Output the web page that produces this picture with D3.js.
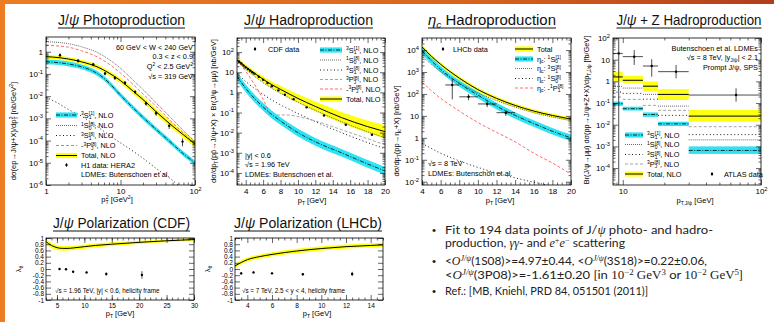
<!DOCTYPE html>
<html><head><meta charset="utf-8">
<script src="https://cdn.jsdelivr.net/npm/d3@7"></script>
<style>body{margin:0;background:#fff}svg{display:block}</style>
</head><body><script>
// ---------- J/psi photoproduction (H1), x = pT^2 ----------
const photoPt2 = [1, 1.5, 2, 3, 5, 7, 10, 15, 20, 30, 50, 70, 100];
const photoTotal = [0.60, 0.54, 0.47, 0.35, 0.20, 0.11, 0.050, 0.016, 7.1e-3, 2.0e-3, 4.5e-4, 1.8e-4, 7e-5];
const photoTotalUnc = [0.23, 0.23, 0.24, 0.25, 0.27, 0.28, 0.30, 0.32, 0.33, 0.35, 0.37, 0.38, 0.40];
const photoCS = [0.35, 0.32, 0.28, 0.21, 0.10, 0.040, 0.011, 2.8e-3, 1.1e-3, 3.2e-4, 7e-5, 2.5e-5, 1e-5];
const photoCSUnc = [0.28, 0.28, 0.28, 0.28, 0.28, 0.28, 0.28, 0.28, 0.28, 0.28, 0.28, 0.28, 0.28];
const photo1S08 = [2.8, 2.6, 2.3, 1.66, 0.89, 0.45, 0.18, 0.050, 0.020, 5e-3, 8.9e-4, 2.8e-4, 8.9e-5];
const photo3S18 = [8.9e-3, 4.5e-3, 2.5e-3, 1.26e-3, 4e-4, 1.8e-4, 7.9e-5, 3.2e-5, 1.6e-5, 5.6e-6, 1.6e-6, 6.3e-7, 2e-7];
const photoNeg3PJ8 = [2.0, 1.8, 1.6, 1.1, 0.56, 0.28, 0.11, 0.032, 0.0126, 3.5e-3, 6.3e-4, 2.2e-4, 7e-5];
const h1Pt2 = [1.54, 2.7, 4.3, 6.2, 8.4, 11.5, 15.7, 22, 30, 45, 68];
const h1Val = [0.70, 0.39, 0.27, 0.105, 0.066, 0.040, 0.0156, 4.7e-3, 1.7e-3, 4.6e-4, 9e-5];
const h1Err = [0.15, 0.07, 0.05, 0.02, 0.012, 0.008, 0.003, 1.0e-3, 4e-4, 1.3e-4, 3.5e-5];

// ---------- J/psi hadroproduction (CDF) ----------
const cdfPt = [3, 4, 5, 6, 7, 8, 10, 12, 15, 18, 20];
const cdfTotal = [41.7, 18.6, 8.9, 4.47, 2.4, 1.41, 0.50, 0.20, 0.056, 0.020, 0.0112];
const cdfTotalUnc = [0.3, 0.3, 0.35, 0.4, 0.45, 0.5, 0.6, 0.75, 0.9, 1.0, 1.1];
const cdfCS = [6.3, 1.58, 0.50, 0.19, 0.079, 0.038, 0.010, 3.5e-3, 1.0e-3, 2.8e-4, 1.26e-4];
const cdfCSUnc = [0.55, 0.55, 0.55, 0.55, 0.55, 0.55, 0.55, 0.55, 0.55, 0.55, 0.55];
const cdf1S08 = [35, 14, 6.3, 3.0, 1.58, 0.89, 0.32, 0.126, 0.035, 0.011, 5.6e-3];
const cdf3S18 = [8.9, 3.5, 1.58, 0.79, 0.42, 0.24, 0.089, 0.035, 0.010, 3.2e-3, 1.6e-3];
const cdfNeg3PJPt = [3, 4, 5, 6, 6.8];
const cdfNeg3PJ = [40, 11.2, 2.5, 0.45, 0.079];
const cdf3PJPt = [7, 8, 9, 10, 12, 15, 18, 20];
const cdf3PJ = [0.071, 0.076, 0.074, 0.063, 0.038, 0.014, 5e-3, 2.5e-3];
const cdfDataPt = [3.25, 3.5, 3.75, 4.0, 4.25, 4.5, 4.75, 5.0, 5.5, 6.0, 6.5, 7.0, 7.75, 8.5, 9.5, 11, 13, 15.5, 18.5];
const cdfDataVal = [33, 27, 21.4, 17.4, 14.5, 12, 10, 8.5, 6.0, 4.2, 2.9, 2.0, 1.26, 0.76, 0.46, 0.18, 0.071, 0.0245, 0.0079];

// ---------- eta_c hadroproduction (LHCb) ----------
const etaPt = [4, 5, 6, 7, 8, 10, 12, 14, 16, 18, 20];
const etaTotal = [14100, 5250, 2240, 1050, 525, 158, 63, 30, 16.6, 10.5, 7.1];
const etaTotalUnc = [0.22, 0.22, 0.22, 0.22, 0.22, 0.22, 0.22, 0.22, 0.22, 0.22, 0.22];
const etaCS = [9300, 3300, 1320, 600, 300, 89, 28, 10.5, 4.5, 2.0, 1.0];
const etaCSUnc = [0.4, 0.4, 0.4, 0.4, 0.4, 0.4, 0.4, 0.4, 0.4, 0.4, 0.4];
const eta3S18 = [5250, 2240, 1050, 560, 316, 112, 50, 25, 14, 8.9, 6.0];
const etaNeg1P18 = [355, 141, 63, 32, 16.6, 5.0, 1.78, 0.66, 0.2, 0.071, 0.022];
const eta1S08Pt = [4, 6, 8, 10, 12, 14, 16, 18];
const eta1S08 = [0.56, 0.2, 0.089, 0.045, 0.025, 0.015, 9.5e-3, 6.3e-3];
const lhcbBinLo = [6.5, 8, 10, 12];
const lhcbBinHi = [8, 10, 12, 14];
const lhcbPt = [7.25, 9, 11, 13];
const lhcbVal = [257, 74, 35, 14];
const lhcbErr = [200, 22, 10, 4];

// ---------- J/psi + Z (ATLAS) ----------
const zBinLo = [8.5, 10, 14, 18, 30];
const zBinHi = [10, 14, 18, 30, 100];
const zTotal = [1.6, 1.12, 0.60, 0.25, 0.025];
const zTotalLo = [0.98, 0.81, 0.34, 0.138, 0.0138];
const zTotalHi = [2.8, 1.78, 0.98, 0.44, 0.048];
const zCS = [0.093, 0.055, 0.0295, 0.011, 6.5e-4];
const zCSLo = [0.074, 0.045, 0.023, 0.0087, 4.5e-4];
const zCSHi = [0.117, 0.068, 0.037, 0.0138, 1.0e-3];
const z1S08 = [0.59, 0.49, 0.25, 0.072, 2.0e-3];
const z3S18 = [0.32, 0.28, 0.15, 0.027, 3.5e-3];
const z3PJ8 = [0.19, 0.148, 0.078, 0.046, 8.1e-3];
const atlasPt = [9.35, 12.1, 16.2, 24.3, 66];
const atlasVal = [19.5, 13.8, 5.1, 2.8, 0.234];
const atlasLo = [0, 5.7, 1.65, 1.39, 0.116];
const atlasHi = [100, 28, 10.5, 5.7, 0.48];

// ---------- polarization ----------
const cdfPolPt = [3, 4, 5, 6, 7, 8, 10, 12, 15, 20, 25, 30];
const cdfPolLam = [0.88, 0.76, 0.69, 0.665, 0.665, 0.68, 0.72, 0.76, 0.80, 0.86, 0.91, 0.95];
const cdfPolUnc = [0.08, 0.08, 0.08, 0.08, 0.075, 0.07, 0.07, 0.065, 0.06, 0.05, 0.045, 0.04];
const cdfPolDataPt = [5.47, 6.65, 7.95, 10.4, 14.0, 20.5];
const cdfPolData = [0.0, -0.01, -0.09, -0.11, -0.16, -0.19];
const cdfPolErr = [0.02, 0.02, 0.02, 0.03, 0.05, 0.12];
const lhcbPolPt = [3, 4, 5, 6, 8, 10, 12, 14, 15];
const lhcbPolLam = [0.10, 0.30, 0.40, 0.47, 0.58, 0.66, 0.72, 0.76, 0.78];
const lhcbPolUnc = [0.07, 0.07, 0.07, 0.07, 0.07, 0.07, 0.07, 0.07, 0.07];
const lhcbPolDataPt = [3.5, 4.5, 6.0, 8.5, 12.5];
const lhcbPolData = [-0.14, -0.11, -0.14, -0.17, -0.16];
const lhcbPolErr = [0.04, 0.03, 0.03, 0.04, 0.07];
const polTicks = [-1, -0.8, -0.6, -0.4, -0.2, 0, 0.2, 0.4, 0.6, 0.8, 1];

const FONT = "'Liberation Sans', Arial, sans-serif";
const SERIF = "'Liberation Serif', 'DejaVu Serif', serif";
const CYAN = "#2ee3f3", YELLOW = "#ffff14";

const svg = d3.select("body").append("svg").attr("width", 774).attr("height", 322)
  .attr("font-family", FONT);
const defs = svg.append("defs");

// slide frame
const gr = defs.append("linearGradient").attr("id", "bar");
gr.append("stop").attr("offset", 0).attr("stop-color", "#ec7d22");
gr.append("stop").attr("offset", 0.6).attr("stop-color", "#d9631d");
gr.append("stop").attr("offset", 1).attr("stop-color", "#b13e1b");
svg.append("rect").attr("width", 774).attr("height", 322).attr("fill", "url(#bar)");
svg.append("rect").attr("x", 5).attr("y", 4).attr("width", 769).attr("height", 318).attr("fill", "#fff");

function setAttrs(sel, o) { Object.entries(o).forEach(([k, v]) => sel.attr(k, v)); return sel; }

// tokens: "text" or [text, flags]; flags u=sup d=sub b=backstep i=italic s=serif
function rich(sel, tokens, fs) {
  let cur = 0;
  tokens.forEach(tk => {
    const [t, k] = typeof tk === "string" ? [tk, ""] : tk;
    const target = k.includes("u") ? -0.36 * fs : k.includes("d") ? 0.22 * fs : 0;
    const ts = sel.append("tspan").text(t).attr("dy", target - cur);
    cur = target;
    if (k.includes("u") || k.includes("d")) ts.attr("font-size", fs * 0.68);
    if (k.includes("b")) ts.attr("dx", -0.36 * fs);
    if (k.includes("i")) ts.attr("font-style", "italic");
    if (k.includes("s")) ts.attr("font-family", SERIF);
  });
  return sel;
}

function txt(x, y, tokens, fs, anchor, rot) {
  const t = svg.append("text").attr("x", x).attr("y", y).attr("font-size", fs)
    .attr("text-anchor", anchor || "start").attr("fill", "#000");
  if (rot) t.attr("transform", `rotate(-90,${x},${y})`);
  return rich(t, tokens, fs);
}

const ST = {
  cs: { stroke: "#000", "stroke-width": 0.8, "stroke-dasharray": "4,1.5,1,1.5", fill: "none" },
  s1: { stroke: "#444", "stroke-width": 0.8, "stroke-dasharray": "1,1", fill: "none" },
  s3: { stroke: "#000", "stroke-width": 0.9, "stroke-dasharray": "1,2.5", fill: "none" },
  pj: { stroke: "#9a9a9a", "stroke-width": 0.9, "stroke-dasharray": "3,2", fill: "none" },
  npj: { stroke: "#ff5a5a", "stroke-width": 0.9, "stroke-dasharray": "3,2", fill: "none" },
  tot: { stroke: "#000", "stroke-width": 1, fill: "none" }
};

function mkPanel(id, x, y) {
  const [x0, x1] = x.range(), [y1, y0] = y.range();
  defs.append("clipPath").attr("id", id).append("rect")
    .attr("x", x0).attr("y", y0).attr("width", x1 - x0).attr("height", y1 - y0);
  const g = svg.append("g");
  const plot = g.append("g").attr("clip-path", `url(#${id})`);
  return { g, plot, x, y, x0, x1, y0, y1 };
}

function decades(s) {
  const [a, b] = s.domain();
  return d3.range(Math.ceil(Math.log10(a) - 1e-9), Math.floor(Math.log10(b) + 1e-9) + 1).map(e => 10 ** e);
}
function logLabels(a) {
  a.selectAll(".tick text").each(function (d) {
    const e = Math.round(Math.log10(d)), t = d3.select(this).text(null);
    if (e === 0) t.text("1");
    else if (e === 1) t.text("10");
    else { t.append("tspan").text("10"); t.append("tspan").attr("font-size", "0.72em").attr("dy", "-0.55em").text(e); }
  });
}

function axes(p, o) {
  const { g, x, y, x0, x1, y0, y1 } = p;
  const fs = o.fs || 8;
  const mk = (gen, vals, size, tx, ty, fmt, pad) => {
    const a = g.append("g").attr("transform", `translate(${tx},${ty})`)
      .call(gen.tickValues(vals).tickSize(size).tickPadding(pad).tickFormat(fmt));
    a.select(".domain").remove();
    a.attr("font-family", FONT).attr("font-size", fs);
    a.selectAll("line").attr("stroke-width", 0.6);
    a.selectAll("text").attr("fill", "#000");
    return a;
  };
  const none = () => "";
  const xl = o.xLog, yl = o.yLog;
  const xMaj = xl ? decades(x) : o.xMaj, yMaj = yl ? decades(y) : o.yMaj;
  const xMin = xl ? x.ticks().filter(v => !xMaj.some(m => Math.abs(m - v) < 1e-9 * m)) : o.xMin;
  const yMin = yl ? y.ticks().filter(v => !yMaj.some(m => Math.abs(m - v) < 1e-9 * m)) : o.yMin;
  const xb = mk(d3.axisBottom(x), xMaj, -5, 0, y1, xl ? null : (o.xFmt || d3.format("")), 3);
  if (xl) logLabels(xb);
  mk(d3.axisBottom(x), xMin, -2.5, 0, y1, none, 3);
  mk(d3.axisTop(x), xMaj, -5, 0, y0, none, 3);
  mk(d3.axisTop(x), xMin, -2.5, 0, y0, none, 3);
  const ylab = mk(d3.axisLeft(y), yMaj, -5, x0, 0, yl ? null : o.yFmt, o.yPad || 3);
  if (yl) logLabels(ylab);
  mk(d3.axisLeft(y), yMin, -2.5, x0, 0, none, 3);
  mk(d3.axisRight(y), yMaj, -5, x1, 0, none, 3);
  mk(d3.axisRight(y), yMin, -2.5, x1, 0, none, 3);
  g.append("rect").attr("x", x0).attr("y", y0).attr("width", x1 - x0).attr("height", y1 - y0)
    .attr("fill", "none").attr("stroke", "#000").attr("stroke-width", 0.8);
}

const mono = d3.curveMonotoneX;
function curve(p, xs, ys, st) {
  setAttrs(p.plot.append("path").datum(xs.map((v, i) => [v, ys[i]]))
    .attr("d", d3.line().x(d => p.x(d[0])).y(d => p.y(d[1])).curve(mono)), st);
}
function bandLog(p, xs, ys, unc, color) {
  p.plot.append("path").datum(xs.map((v, i) => [v, ys[i], unc[i]]))
    .attr("d", d3.area().x(d => p.x(d[0])).y0(d => p.y(d[1] / (1 + d[2]))).y1(d => p.y(d[1] * (1 + d[2]))).curve(mono))
    .attr("fill", color);
}
function bandLin(p, xs, ys, unc, color) {
  p.plot.append("path").datum(xs.map((v, i) => [v, ys[i], unc[i]]))
    .attr("d", d3.area().x(d => p.x(d[0])).y0(d => p.y(d[1] - d[2])).y1(d => p.y(d[1] + d[2])).curve(mono))
    .attr("fill", color);
}
function points(p, xs, ys, lo, hi, xlo, xhi) {
  const [dmin] = p.y.domain();
  xs.forEach((v, i) => {
    const cx = p.x(v), cy = p.y(ys[i]);
    if (lo) p.plot.append("line").attr("x1", cx).attr("x2", cx)
      .attr("y1", p.y(Math.max(lo[i], dmin))).attr("y2", p.y(hi[i])).attr("stroke", "#000").attr("stroke-width", 0.7);
    if (xlo) p.plot.append("line").attr("x1", p.x(xlo[i])).attr("x2", p.x(xhi[i]))
      .attr("y1", cy).attr("y2", cy).attr("stroke", "#000").attr("stroke-width", 0.7);
    p.plot.append("circle").attr("cx", cx).attr("cy", cy).attr("r", 1.2).attr("fill", "#000");
  });
}

function legendRow(xa, xb, y, kind, tokens, fs, lx) {
  if (kind === "cs" || kind === "tot") {
    svg.append("rect").attr("x", xa).attr("y", y - 2.6).attr("width", xb - xa).attr("height", 5.2)
      .attr("fill", kind === "cs" ? CYAN : YELLOW);
  }
  if (kind === "dot") {
    svg.append("circle").attr("cx", (xa + xb) / 2).attr("cy", y).attr("r", 1.2);
    svg.append("line").attr("x1", (xa + xb) / 2).attr("x2", (xa + xb) / 2).attr("y1", y - 2).attr("y2", y + 2)
      .attr("stroke", "#000").attr("stroke-width", 0.6);
  } else if (kind) {
    setAttrs(svg.append("line").attr("x1", xa).attr("x2", xb).attr("y1", y).attr("y2", y), ST[kind]);
  }
  txt(lx, y + fs * 0.36, tokens, fs);
}

function title(cx, base, tokens, w) {
  const t = svg.append("text").attr("x", cx).attr("y", base).attr("text-anchor", "middle")
    .attr("font-size", 14).attr("fill", "#111").attr("textLength", w).attr("lengthAdjust", "spacingAndGlyphs");
  rich(t, tokens, 14);
  svg.append("line").attr("x1", cx - w / 2).attr("x2", cx + w / 2).attr("y1", base + 3).attr("y2", base + 3)
    .attr("stroke", "#111").attr("stroke-width", 1);
}

const lab = (pre, a, b, c, col) => [...pre, [a, "u"], b, [c, "d"], [col, "ub"]];

// ================= Panel 1: photoproduction =================
{
  const p = mkPanel("c1", d3.scaleLog().domain([1, 100]).range([46, 195]),
    d3.scaleLog().domain([1e-6, 4.6]).range([185, 37]));
  bandLog(p, photoPt2, photoTotal, photoTotalUnc, YELLOW);
  bandLog(p, photoPt2, photoCS, photoCSUnc, CYAN);
  curve(p, photoPt2, photoCS, ST.cs);
  curve(p, photoPt2, photo1S08, ST.s1);
  curve(p, photoPt2, photo3S18, ST.s3);
  curve(p, photoPt2, photoNeg3PJ8, ST.npj);
  curve(p, photoPt2, photoTotal, ST.tot);
  points(p, h1Pt2, h1Val, h1Val.map((v, i) => v - h1Err[i]), h1Val.map((v, i) => v + h1Err[i]));
  axes(p, { xLog: true, yLog: true });
  const fs = 7.3;
  txt(193, 49.5, ["60 GeV < W < 240 GeV"], fs, "end");
  txt(193, 59, ["0.3 < z < 0.9"], fs, "end");
  txt(193, 68.5, ["Q", ["2", "u"], " < 2.5 GeV", ["2", "u"]], fs, "end");
  txt(193, 78.5, ["\u221As = 319 GeV"], fs, "end");
  legendRow(56, 77, 115, "cs", lab([], "3", "S", "1", "[1]").concat([", NLO"]), fs, 81);
  legendRow(56, 77, 125.5, "s1", lab([], "1", "S", "0", "[8]").concat([", NLO"]), fs, 81);
  legendRow(56, 77, 135.5, "s3", lab([], "3", "S", "1", "[8]").concat([", NLO"]), fs, 81);
  legendRow(56, 77, 145.5, "npj", lab(["-"], "3", "P", "J", "[8]").concat([", NLO"]), fs, 81);
  legendRow(56, 77, 155.5, "tot", ["Total, NLO"], fs, 81);
  legendRow(56, 77, 165, "dot", ["H1 data: HERA2"], fs, 81);
  legendRow(56, 77, 174.5, null, ["LDMEs: Butenschoen et al."], fs, 81);
  txt(16, 131, ["d\u03C3(ep\u2192J/\u03C8+X)/dp", ["T", "d"], ["2", "ub"], "  [nb/GeV", ["2", "u"], "]"], 7.5, "middle", true);
  txt(117, 202, ["p", ["T", "d"], ["2", "ub"], " [GeV", ["2", "u"], "]"], 7.5, "middle");
}

// ================= Panel 2: hadroproduction CDF =================
{
  const p = mkPanel("c2", d3.scaleLinear().domain([3, 20]).range([237, 385]),
    d3.scaleLog().domain([10 ** -4.6, 10 ** 2.7]).range([185, 38]));
  bandLog(p, cdfPt, cdfTotal, cdfTotalUnc, YELLOW);
  bandLog(p, cdfPt, cdfCS, cdfCSUnc, CYAN);
  curve(p, cdfPt, cdfCS, ST.cs);
  curve(p, cdfPt, cdf1S08, ST.s1);
  curve(p, cdfPt, cdf3S18, ST.s3);
  curve(p, cdf3PJPt, cdf3PJ, ST.pj);
  curve(p, cdfNeg3PJPt, cdfNeg3PJ, ST.npj);
  curve(p, cdfPt, cdfTotal, ST.tot);
  points(p, cdfDataPt, cdfDataVal);
  axes(p, { yLog: true, xMaj: [4, 6, 8, 10, 12, 14, 16, 18, 20], xMin: [3, 3.5, 4.5, 5, 5.5, 6.5, 7, 7.5, 8.5, 9, 9.5, 10.5, 11, 11.5, 12.5, 13, 13.5, 14.5, 15, 15.5, 16.5, 17, 17.5, 18.5, 19, 19.5] });
  const fs = 7.3;
  legendRow(250, 260, 49, "dot", ["CDF data"], fs, 268);
  legendRow(320, 342, 50, "cs", lab([], "3", "S", "1", "[1]").concat([", NLO"]), fs, 346);
  legendRow(320, 342, 60, "s1", lab([], "1", "S", "0", "[8]").concat([", NLO"]), fs, 346);
  legendRow(320, 342, 70, "s3", lab([], "3", "S", "1", "[8]").concat([", NLO"]), fs, 346);
  legendRow(320, 342, 79.5, "pj", lab([], "3", "P", "J", "[8]").concat([", NLO"]), fs, 346);
  legendRow(320, 342, 89, "npj", lab(["-"], "3", "P", "J", "[8]").concat([", NLO"]), fs, 346);
  legendRow(320, 342, 99, "tot", ["Total, NLO"], fs, 346);
  txt(245, 157.5, ["|y| < 0.6"], fs);
  txt(245, 166.5, ["\u221As = 1.96 TeV"], fs);
  txt(245, 176.5, ["LDMEs: Butenschoen et al."], fs);
  txt(216, 111, ["d\u03C3/dp", ["T", "d"], "(p\u0070\u0304\u2192J/\u03C8+X) \u00D7 Br(J/\u03C8\u2192\u03BC\u03BC)  [nb/GeV]"], 7.5, "middle", true);
  txt(312, 203, ["p", ["T", "d"], " [GeV]"], 7.5, "middle");
}

// ================= Panel 3: eta_c =================
{
  const p = mkPanel("c3", d3.scaleLinear().domain([4, 20]).range([422, 571]),
    d3.scaleLog().domain([10 ** -2.15, 10 ** 4.55]).range([185, 38]));
  bandLog(p, etaPt, etaTotal, etaTotalUnc, YELLOW);
  bandLog(p, etaPt, etaCS, etaCSUnc, CYAN);
  curve(p, etaPt, etaCS, ST.cs);
  curve(p, etaPt, eta3S18, ST.s1);
  curve(p, eta1S08Pt, eta1S08, ST.s3);
  curve(p, etaPt, etaNeg1P18, ST.npj);
  curve(p, etaPt, etaTotal, ST.tot);
  points(p, lhcbPt, lhcbVal, lhcbVal.map((v, i) => v - lhcbErr[i]), lhcbVal.map((v, i) => v + lhcbErr[i]), lhcbBinLo, lhcbBinHi);
  axes(p, { yLog: true, xMaj: [4, 6, 8, 10, 12, 14, 16, 18, 20], xMin: [4.5, 5, 5.5, 6.5, 7, 7.5, 8.5, 9, 9.5, 10.5, 11, 11.5, 12.5, 13, 13.5, 14.5, 15, 15.5, 16.5, 17, 17.5, 18.5, 19, 19.5] });
  const fs = 7.3;
  legendRow(438, 448, 49, "dot", ["LHCb data"], fs, 453);
  legendRow(515, 533, 49, "tot", ["Total"], fs, 537);
  legendRow(515, 533, 59, "cs", ["\u03B7", ["c", "d"], ": ", ...lab([], "1", "S", "0", "[1]")], fs, 537);
  legendRow(515, 533, 68.5, "s1", ["\u03B7", ["c", "d"], ": ", ...lab([], "3", "S", "1", "[8]")], fs, 537);
  legendRow(515, 533, 78.5, "s3", ["\u03B7", ["c", "d"], ": ", ...lab([], "1", "S", "0", "[8]")], fs, 537);
  legendRow(515, 533, 88, "npj", ["\u03B7", ["c", "d"], ": -", ...lab([], "1", "P", "1", "[8]")], fs, 537);
  txt(428, 165.5, ["\u221As = 8 TeV"], fs);
  txt(428, 175.5, ["LDMEs: Butensch\u00F6n et al."], fs);
  txt(399, 131, ["d\u03C3/dp", ["T", "d"], "(pp\u2192\u03B7", ["c", "d"], "+X)  [nb/GeV]"], 7.5, "middle", true);
  txt(500, 203, ["p", ["T", "d"], " [GeV]"], 7.5, "middle");
}

// ================= Panel 4: J/psi + Z =================
{
  const p = mkPanel("c4", d3.scaleLog().domain([8.5, 100]).range([613, 761]),
    d3.scaleLog().domain([10 ** -4.78, 100]).range([185, 38]));
  const box = (lo, hi, color) => zBinLo.forEach((b, i) => p.plot.append("rect")
    .attr("x", p.x(b)).attr("width", p.x(zBinHi[i]) - p.x(b))
    .attr("y", p.y(hi[i])).attr("height", p.y(lo[i]) - p.y(hi[i])).attr("fill", color));
  const step = (v, st) => zBinLo.forEach((b, i) => setAttrs(p.plot.append("line")
    .attr("x1", p.x(b)).attr("x2", p.x(zBinHi[i])).attr("y1", p.y(v[i])).attr("y2", p.y(v[i])), st));
  box(zTotalLo, zTotalHi, YELLOW);
  box(zCSLo, zCSHi, CYAN);
  step(zCS, ST.cs);
  step(z1S08, ST.s1);
  step(z3S18, ST.s3);
  step(z3PJ8, ST.pj);
  step(zTotal, ST.tot);
  points(p, atlasPt, atlasVal, atlasLo, atlasHi, zBinLo, zBinHi);
  axes(p, { xLog: true, yLog: true });
  const fs = 7.3;
  txt(758, 50.5, ["Butenschoen et al. LDMEs"], fs, "end");
  txt(758, 60, ["\u221As = 8 TeV, |y", ["J/\u03C8", "d"], "| < 2.1"], fs, "end");
  txt(758, 69.5, ["Prompt J/\u03C8, SPS"], fs, "end");
  legendRow(625, 643, 135, "cs", lab([], "3", "S", "1", "[1]").concat([", NLO"]), fs, 647);
  legendRow(625, 643, 144.5, "s1", lab([], "1", "S", "0", "[8]").concat([", NLO"]), fs, 647);
  legendRow(625, 643, 154.5, "s3", lab([], "3", "S", "1", "[8]").concat([", NLO"]), fs, 647);
  legendRow(625, 643, 164, "pj", lab([], "3", "P", "J", "[8]").concat([", NLO"]), fs, 647);
  legendRow(625, 643, 174, "tot", ["Total, NLO"], fs, 647);
  legendRow(707, 717, 174, "dot", ["ATLAS data"], fs, 724);
  txt(589, 110, ["Br(J/\u03C8\u2192\u03BC\u03BC) d\u03C3(pp\u2192J/\u03C8+Z+X)/dp", ["T,J/\u03C8", "d"], " [fb/GeV]"], 7.3, "middle", true);
  txt(695, 203, ["p", ["T,J/\u03C8", "d"], " [GeV]"], 7.5, "middle");
}

// ================= Panel 5: CDF polarization =================
const polFmt = d => String(+d.toFixed(1));
{
  const p = mkPanel("c5", d3.scaleLinear().domain([3, 30]).range([46, 194]),
    d3.scaleLinear().domain([-1, 1]).range([300, 238]));
  bandLin(p, cdfPolPt, cdfPolLam, cdfPolUnc, YELLOW);
  curve(p, cdfPolPt, cdfPolLam, ST.tot);
  points(p, cdfPolDataPt, cdfPolData, cdfPolData.map((v, i) => v - cdfPolErr[i]), cdfPolData.map((v, i) => v + cdfPolErr[i]));
  axes(p, { fs: 6.5, yPad: 2, xMaj: [5, 10, 15, 20, 25, 30], xMin: d3.range(3, 31), yMaj: polTicks, yMin: [], yFmt: polFmt });
  txt(55, 293, ["\u221As = 1.96 TeV, |y| < 0.6, helicity frame"], 6.3);
  txt(21, 269, ["\u03BB", ["\u03B8", "d"]], 7.5, "middle", true);
  txt(120, 316, ["p", ["T", "d"], " [GeV]"], 7.5, "middle");
}

// ================= Panel 6: LHCb polarization =================
{
  const p = mkPanel("c6", d3.scaleLinear().domain([3, 15]).range([235, 383]),
    d3.scaleLinear().domain([-1, 1]).range([300, 238]));
  bandLin(p, lhcbPolPt, lhcbPolLam, lhcbPolUnc, YELLOW);
  curve(p, lhcbPolPt, lhcbPolLam, ST.tot);
  points(p, lhcbPolDataPt, lhcbPolData, lhcbPolData.map((v, i) => v - lhcbPolErr[i]), lhcbPolData.map((v, i) => v + lhcbPolErr[i]));
  axes(p, { fs: 6.5, yPad: 2, xMaj: [4, 6, 8, 10, 12, 14], xMin: [3, 3.5, 4.5, 5, 5.5, 6.5, 7, 7.5, 8.5, 9, 9.5, 10.5, 11, 11.5, 12.5, 13, 13.5, 14.5, 15], yMaj: polTicks, yMin: [], yFmt: polFmt });
  txt(242, 293, ["\u221As = 7 TeV, 2.5 < y < 4, helicity frame"], 6.3);
  txt(210, 269, ["\u03BB", ["\u03B8", "d"]], 7.5, "middle", true);
  txt(317, 316, ["p", ["T", "d"], " [GeV]"], 7.5, "middle");
}

// ================= titles =================
title(121.5, 25, ["J/", ["\u03C8", "i"], " Photoproduction"], 127);
title(308.5, 25, ["J/", ["\u03C8", "i"], " Hadroproduction"], 129);
title(492, 25, [["\u03B7", "i"], ["c", "di"], " Hadroproduction"], 128);
title(689, 25, ["J/", ["\u03C8", "i"], " + Z Hadroproduction"], 145);
title(121.5, 228, ["J/", ["\u03C8", "i"], " Polarization (CDF)"], 137);
title(308, 228, ["J/", ["\u03C8", "i"], " Polarization (LHCb)"], 148);

// ================= bullet text =================
function bullet(y, tokens, w, dot) {
  if (dot) svg.append("text").attr("x", 432).attr("y", y).attr("font-size", 11.5).attr("fill", "#222").text("\u2022");
  const t = svg.append("text").attr("x", 445).attr("y", y).attr("font-size", 11.5).attr("fill", "#222")
    .attr("font-family", "Lato, 'Liberation Sans', sans-serif").attr("textLength", w).attr("lengthAdjust", "spacingAndGlyphs");
  rich(t, tokens, 11.5);
}
const Oj = [["O", "is"], ["J/\u03C8", "uis"]];
bullet(234, ["Fit to 194 data points of J/", ["\u03C8", "is"], " photo- and hadro-"], 268, true);
bullet(247, ["production, ", ["\u03B3\u03B3", "is"], "- and ", ["e", "is"], ["+", "us"], ["e", "is"], ["\u2212", "us"], " scattering"], 180, false);
bullet(265, ["<", ...Oj, "(1S08)>=4.97\u00B10.44, <", ...Oj, "(3S18)>=0.22\u00B10.06,"], 262, true);
bullet(279, ["<", ...Oj, "(3P08)>=-1.61\u00B10.20 [in ", ["10", "s"], ["\u22122", "us"], [" GeV", "s"], ["3", "us"], " or ", ["10", "s"], ["\u22122", "us"], [" GeV", "s"], ["5", "us"], "]"], 298, false);
bullet(295, ["Ref.: [MB, Kniehl, PRD 84, 051501 (2011)]"], 203, true);
</script></body></html>
